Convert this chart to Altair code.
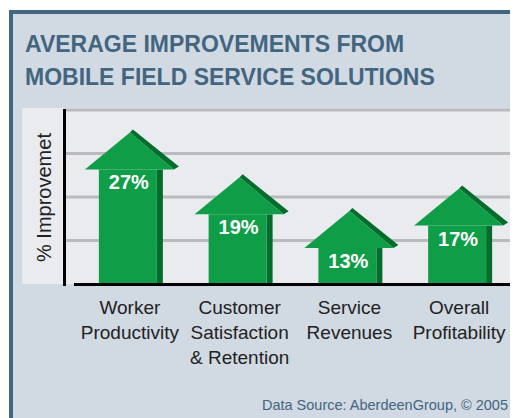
import altair as alt
import pandas as pd

# ---- data ----
categories = ["Worker Productivity", "Customer Satisfaction & Retention",
              "Service Revenues", "Overall Profitability"]
values = [27, 19, 13, 17]
value_labels = ["27%", "19%", "13%", "17%"]
grid_values = [7.75, 15.5, 23.25, 31]
y_max = 31
title_text = "AVERAGE IMPROVEMENTS FROM\nMOBILE FIELD SERVICE SOLUTIONS"
source_text = "Data Source: AberdeenGroup, \u00a9 2005"
y_title = "% Improvemet"

df = pd.DataFrame({"category": categories, "value": values, "label": value_labels})
grid_df = pd.DataFrame({"g": grid_values})
one = pd.DataFrame({"k": [0]})

# ---- style ----
W, H = 446, 174
FONT = "Liberation Sans, Arial, sans-serif"
BORDER = "#436580"
BG = "#d1d9e3"
PANEL = "#e9ebef"
GRID = "#bbbbbf"
GREEN = "#0f9e47"
DARK = "#006d2c"
TXT = "#222222"

x_scale = alt.Scale(domain=categories, paddingInner=0, paddingOuter=0,
                    range=[11, 450])
y_scale = alt.Scale(domain=[0, y_max], nice=False, zero=True)

x_axis = alt.Axis(title=None, orient="bottom", domainColor="black", domainWidth=3,
                  domainCap="square", ticks=False, labelAngle=0, labelFont=FONT,
                  labelFontSize=19, labelColor=TXT, labelPadding=14, labelLineHeight=25,
                  labelLimit=0, labelOverlap=False,
                  labelExpr="split(replace(datum.label, regexp('(?<!&) ', 'g'), '|'), '|')",
                  zindex=1)
y_axis = alt.Axis(title=y_title, domainColor="black", domainWidth=3, domainCap="square",
                  ticks=False, labels=False, grid=False, titleFont=FONT, titleFontSize=20,
                  titleFontWeight="normal", titleColor=TXT, titlePadding=10, zindex=1)


def X():
    return alt.X("category:N", scale=x_scale, sort=categories, axis=x_axis)


def Y(field="value:Q"):
    return alt.Y(field, scale=y_scale, axis=y_axis)


base = alt.Chart(df)

bg = alt.Chart(one).mark_rect(color=BG).encode(
    x=alt.value(-51), x2=alt.value(W), y=alt.value(-96), y2=alt.value(H + 134))
border_left = alt.Chart(one).mark_rect(color=BORDER).encode(
    x=alt.value(-55), x2=alt.value(-51), y=alt.value(-100), y2=alt.value(H + 134))
border_top = alt.Chart(one).mark_rect(color=BORDER).encode(
    x=alt.value(-55), x2=alt.value(W), y=alt.value(-100), y2=alt.value(-96))
panel = alt.Chart(one).mark_rect(color=PANEL).encode(
    x=alt.value(-42), x2=alt.value(W), y=alt.value(-2), y2=alt.value(H))

grid = alt.Chart(grid_df).mark_rule(color=GRID, strokeWidth=3).encode(
    y=Y("g:Q"), x=alt.value(0), x2=alt.value(W))

dark_shaft = base.mark_bar(color=DARK, size=6, xOffset=30, yOffset=37).encode(
    x=X(), y=Y(), y2=alt.datum(0))
shaft = base.mark_bar(color=GREEN, size=58, xOffset=-2, yOffset=37).encode(
    x=X(), y=Y(), y2=alt.datum(0))

dark_head_path = "M 0 0 L 0.067 -0.067 L 1.089 0.756 L 0.978 0.822 Z"
head_path = "M 0 0 L 0.978 0.822 L -1 0.822 Z"

dark_head = base.mark_point(shape=dark_head_path, size=8100, filled=True, color=DARK,
                            opacity=1, strokeWidth=0).encode(x=X(), y=Y())
head = base.mark_point(shape=head_path, size=8100, filled=True, color=GREEN,
                       opacity=1, strokeWidth=0).encode(x=X(), y=Y())

value_text = base.mark_text(color="white", font=FONT, fontSize=20, fontWeight="bold",
                            baseline="middle", dy=51, dx=-1).encode(
    x=X(), y=Y(), text="label:N")

title = alt.Chart(one).mark_text(text=title_text, lineBreak="\n", align="left",
                                 baseline="alphabetic", font=FONT, fontSize=23,
                                 fontWeight="bold", color=BORDER, lineHeight=33).encode(
    x=alt.value(-39), y=alt.value(-58))

source = alt.Chart(one).mark_text(text=source_text, align="right", baseline="alphabetic",
                                  font=FONT, fontSize=14.5, color=BORDER).encode(
    x=alt.value(W - 2), y=alt.value(300))

chart = alt.layer(
    bg, border_left, border_top, panel, grid, dark_shaft, shaft, dark_head, head,
    value_text, title, source
).properties(
    width=W, height=H, autosize="none",
    padding={"left": 56, "top": 102, "right": 0, "bottom": 134},
    background="white"
).configure_view(stroke=None)

chart.save("out.html", embed_options={"renderer": "svg", "actions": False})
